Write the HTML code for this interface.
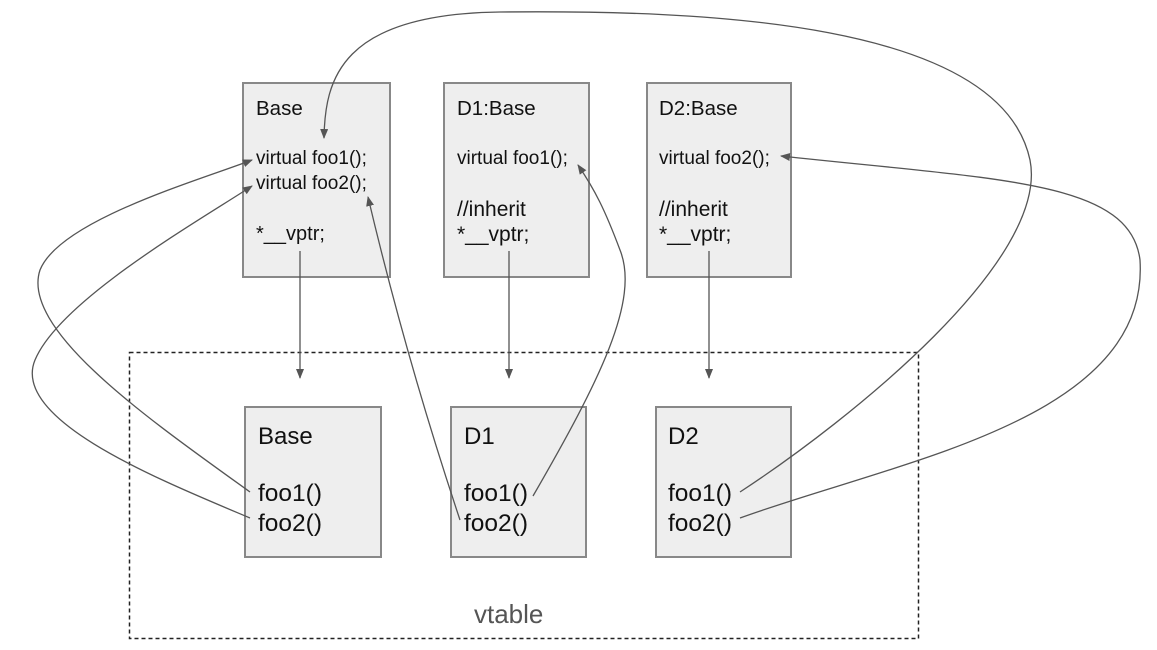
<!DOCTYPE html>
<html><head><style>
body{margin:0;width:1157px;height:650px;background:#fff;overflow:hidden;position:relative;font-family:"Liberation Sans",sans-serif;color:#111}
.b{position:absolute;background:#eeeeee;border:2px solid #888;box-sizing:border-box}
.t{position:absolute;white-space:nowrap;line-height:1}
</style></head><body>
<div class="b" style="left:242px;top:82px;width:149px;height:196px"></div>
<div class="b" style="left:443px;top:82px;width:147px;height:196px"></div>
<div class="b" style="left:646px;top:82px;width:146px;height:196px"></div>
<div class="b" style="left:244px;top:406px;width:138px;height:152px"></div>
<div class="b" style="left:450px;top:406px;width:137px;height:152px"></div>
<div class="b" style="left:655px;top:406px;width:137px;height:152px"></div>

<div class="t" style="left:256px;top:99px;font-size:20.5px">Base</div>
<div class="t" style="left:256px;top:149px;font-size:19px">virtual foo1();</div>
<div class="t" style="left:256px;top:174px;font-size:19px">virtual foo2();</div>
<div class="t" style="left:256px;top:224px;font-size:20px">*__vptr;</div>

<div class="t" style="left:457px;top:99px;font-size:20.5px">D1:Base</div>
<div class="t" style="left:457px;top:149px;font-size:19px">virtual foo1();</div>
<div class="t" style="left:457px;top:199px;font-size:21px">//inherit</div>
<div class="t" style="left:457px;top:224px;font-size:21px">*__vptr;</div>

<div class="t" style="left:659px;top:99px;font-size:20.5px">D2:Base</div>
<div class="t" style="left:659px;top:149px;font-size:19px">virtual foo2();</div>
<div class="t" style="left:659px;top:199px;font-size:21px">//inherit</div>
<div class="t" style="left:659px;top:224px;font-size:21px">*__vptr;</div>

<div class="t" style="left:258px;top:425px;font-size:24px">Base</div>
<div class="t" style="left:258px;top:482px;font-size:24.5px">foo1()</div>
<div class="t" style="left:258px;top:512px;font-size:24.5px">foo2()</div>
<div class="t" style="left:464px;top:425px;font-size:24px">D1</div>
<div class="t" style="left:464px;top:482px;font-size:24.5px">foo1()</div>
<div class="t" style="left:464px;top:512px;font-size:24.5px">foo2()</div>
<div class="t" style="left:668px;top:425px;font-size:24px">D2</div>
<div class="t" style="left:668px;top:482px;font-size:24.5px">foo1()</div>
<div class="t" style="left:668px;top:512px;font-size:24.5px">foo2()</div>
<div class="t" style="left:474px;top:601px;font-size:26px;color:#555">vtable</div>

<svg width="1157" height="650" style="position:absolute;left:0;top:0" fill="none" stroke="#555" stroke-width="1.3">
<defs><marker id="a" markerWidth="10" markerHeight="8" refX="9" refY="4" orient="auto" markerUnits="userSpaceOnUse"><path d="M0,0 L10,4 L0,8z" fill="#555" stroke="none"/></marker></defs>
<rect x="129.5" y="352.5" width="789" height="286" stroke="#222" stroke-width="1.5" stroke-dasharray="4,3"/>
<path d="M300,251 V378" marker-end="url(#a)"/>
<path d="M509,251 V378" marker-end="url(#a)"/>
<path d="M709,251 V378" marker-end="url(#a)"/>
<path d="M250,492 C150,420 20,330 40,270 C60,220 200,180 252,160" marker-end="url(#a)"/>
<path d="M250,518 C160,480 10,420 35,360 C60,300 200,220 252,186" marker-end="url(#a)"/>
<path d="M460,520 C420,400 390,290 368,197" marker-end="url(#a)"/>
<path d="M533,496 C600,380 640,300 620,250 C605,210 595,190 578,165" marker-end="url(#a)"/>
<path d="M740,492 C850,420 1050,260 1030,160 C1000,20 700,10 500,12 C340,14 325,80 324,138" marker-end="url(#a)"/>
<path d="M740,518 C900,460 1150,420 1140,260 C1130,180 1000,180 781,156" marker-end="url(#a)"/>
</svg>
</body></html>
